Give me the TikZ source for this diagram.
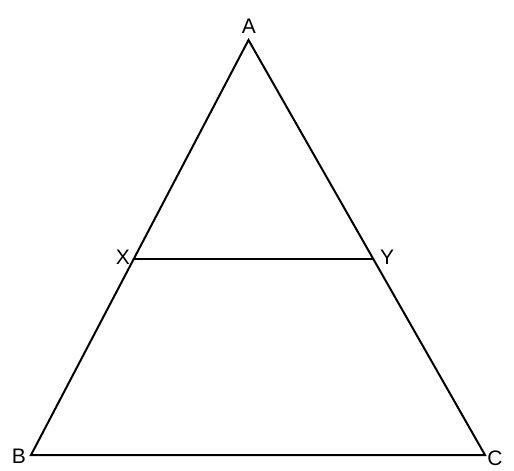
\documentclass[tikz,border=0pt]{standalone}
\usepackage{fontspec}
\setmainfont{Liberation Sans}
\newcommand{\labelfont}{\fontsize{21}{24}\selectfont}
\colorlet{anthracite}{black}
\tikzstyle{side} = [%
	draw=anthracite,
	line width=2pt,
	line join=miter
]
\tikzstyle{vertex label} = [%
	inner sep=0pt,
	anchor=center,
	font=\labelfont
]

\begin{document}
\begin{tikzpicture}[x=1pt, y=-1pt]

\useasboundingbox (0,0) rectangle (514,471);

% corners of the triangle
\coordinate (A) at (248.5,40);
\coordinate (B) at (31,455);
\coordinate (C) at (485,455);

% points on the two sides
\coordinate (X) at (133.7,259);
\coordinate (Y) at (373.3,259);

% triangle and segment
\draw[side] (A) -- (B) -- (C) -- cycle;
\draw[side] (X) -- (Y);

% labels
\node[vertex label] (label A) at (249,26.5) {A};
\node[vertex label] (label B) at (19,456) {B};
\node[vertex label] (label C) at (495,458) {C};
\node[vertex label] (label X) at (123,257) {X};
\node[vertex label] (label Y) at (387,257) {Y};

\end{tikzpicture}
\end{document}
